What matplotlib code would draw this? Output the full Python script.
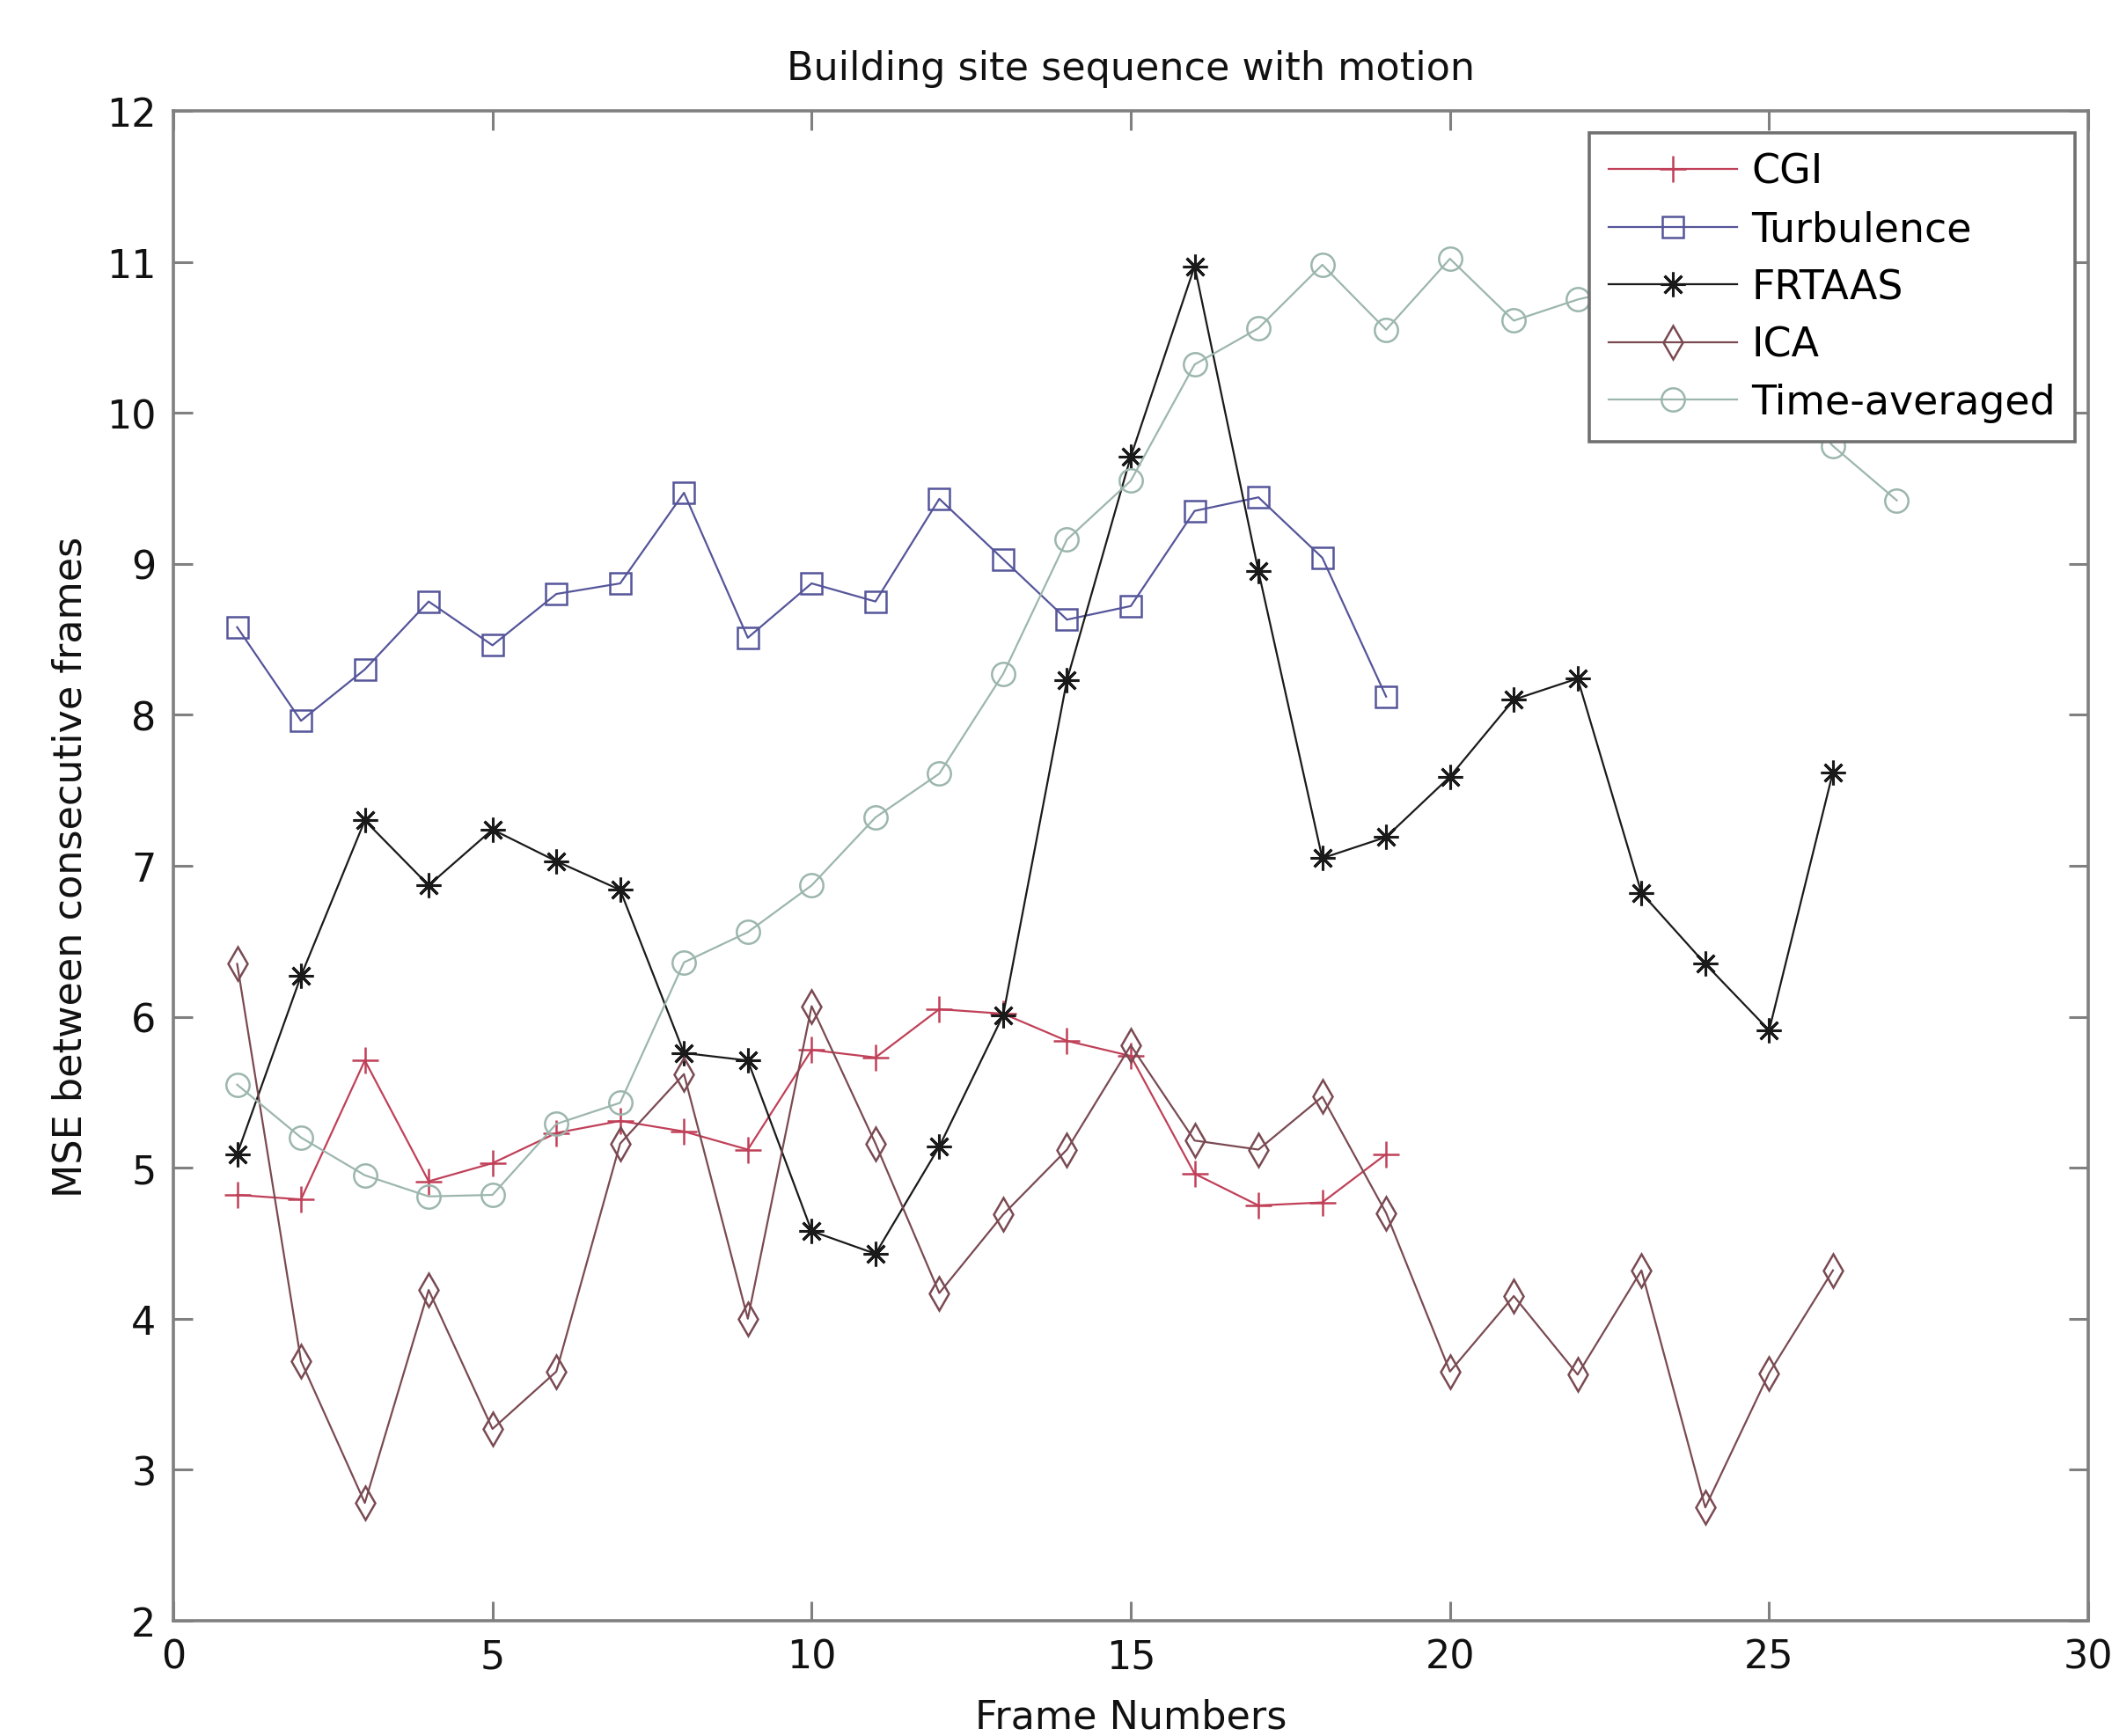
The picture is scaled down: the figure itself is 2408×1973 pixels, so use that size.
import matplotlib
matplotlib.use("Agg")
import matplotlib.pyplot as plt

plt.rcParams['font.family'] = ['DejaVu Sans']

title = "Building site sequence with motion"
xlabel = "Frame Numbers"
ylabel = "MSE between consecutive frames"

frames_19 = list(range(1, 20))
frames_26 = list(range(1, 27))
frames_27 = list(range(1, 28))

cgi = [4.82, 4.79, 5.71, 4.91, 5.03, 5.23, 5.31, 5.24, 5.12, 5.78,
       5.73, 6.05, 6.02, 5.84, 5.74, 4.96, 4.75, 4.77, 5.09]
turbulence = [8.58, 7.96, 8.30, 8.75, 8.46, 8.80, 8.87, 9.47, 8.51, 8.87,
              8.75, 9.43, 9.03, 8.63, 8.72, 9.35, 9.44, 9.04, 8.12]
frtaas = [5.09, 6.27, 7.30, 6.87, 7.24, 7.03, 6.84, 5.76, 5.71, 4.58,
          4.43, 5.14, 6.01, 8.23, 9.71, 10.97, 8.95, 7.05, 7.19, 7.59,
          8.10, 8.24, 6.82, 6.35, 5.91, 7.62]
ica = [6.35, 3.72, 2.78, 4.19, 3.27, 3.65, 5.16, 5.62, 4.00, 6.07,
       5.16, 4.17, 4.69, 5.12, 5.81, 5.18, 5.12, 5.47, 4.70, 3.65,
       4.15, 3.63, 4.32, 2.75, 3.64, 4.32]
time_avg = [5.55, 5.20, 4.95, 4.81, 4.82, 5.29, 5.43, 6.36, 6.56, 6.87,
            7.32, 7.61, 8.27, 9.16, 9.55, 10.32, 10.56, 10.98, 10.55, 11.02,
            10.61, 10.75, 10.85, 10.55, 10.25, 9.78, 9.42]

labels = ["CGI", "Turbulence", "FRTAAS", "ICA", "Time-averaged"]

fig = plt.figure(figsize=(12.04, 9.87), dpi=200)
ax = fig.add_axes([0.0818, 0.0664, 0.9037, 0.8693])

lw = 0.8
ax.plot(frames_19, cgi, color='#c04058', marker='+', markersize=11, linewidth=lw,
        markeredgewidth=0.9, label=labels[0])
ax.plot(frames_19, turbulence, color='#55559a', marker='s', markersize=8.5, linewidth=lw,
        markerfacecolor='none', markeredgewidth=0.9, label=labels[1])
ax.plot(frames_26, frtaas, color='#1a1a1a', marker=(8, 2, 0), markersize=10, linewidth=lw,
        markeredgewidth=1.1, label=labels[2])
ax.plot(frames_26, ica, color='#7a4a52', marker='d', markersize=9.5, linewidth=lw,
        markerfacecolor='none', markeredgewidth=0.9, label=labels[3])
ax.plot(frames_27, time_avg, color='#9cb6ae', marker='o', markersize=9.5, linewidth=lw,
        markerfacecolor='none', markeredgewidth=0.9, label=labels[4])

ax.set_xlim(0, 30)
ax.set_ylim(2, 12)
ax.set_xticks(range(0, 31, 5))
ax.set_yticks(range(2, 13, 1))

for s in ax.spines.values():
    s.set_color('#808080')
    s.set_linewidth(1.3)
ax.tick_params(direction='in', length=8, width=1.1, color='#808080',
               top=True, right=True, labelsize=16, pad=7, labelcolor='#111111')

ax.set_title(title, fontsize=16, pad=13, color='#111111')
ax.set_xlabel(xlabel, fontsize=16, labelpad=9, color='#111111')
ax.set_ylabel(ylabel, fontsize=16, labelpad=7, color='#111111')

leg = ax.legend(loc='upper right', bbox_to_anchor=(0.993, 0.9854), borderaxespad=0,
                fontsize=16.5, numpoints=1, handlelength=3.2, handletextpad=0.35,
                labelspacing=0.45, borderpad=0.48, fancybox=False, framealpha=1)
leg.get_frame().set_edgecolor('#707070')
leg.get_frame().set_linewidth(1.3)

fig.savefig("out.png", dpi=200)
